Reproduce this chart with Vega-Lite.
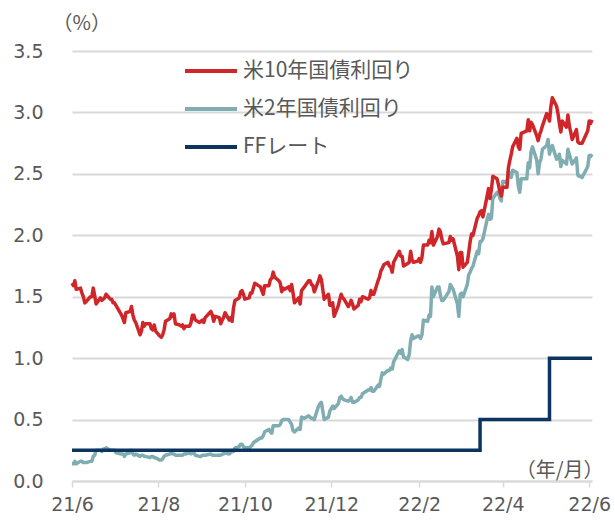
{
  "$schema": "https://vega.github.io/schema/vega-lite/v6.json",
  "width": 520,
  "height": 430,
  "autosize": {"type": "none"},
  "padding": {"left": 72, "top": 51, "right": 23, "bottom": 40},
  "background": "white",
  "config": {"view": {"stroke": null}, "font": "DejaVu Sans"},
  "datasets": {
    "yields": [
      {"date":"2021-06-01","y10":1.61,"y2":0.14},{"date":"2021-06-02","y10":1.59,"y2":0.14},{"date":"2021-06-03","y10":1.63,"y2":0.16},{"date":"2021-06-04","y10":1.56,"y2":0.14},
      {"date":"2021-06-07","y10":1.57,"y2":0.16},{"date":"2021-06-08","y10":1.53,"y2":0.16},{"date":"2021-06-09","y10":1.50,"y2":0.15},{"date":"2021-06-10","y10":1.45,"y2":0.15},{"date":"2021-06-11","y10":1.46,"y2":0.15},
      {"date":"2021-06-14","y10":1.50,"y2":0.16},{"date":"2021-06-15","y10":1.50,"y2":0.16},{"date":"2021-06-16","y10":1.57,"y2":0.20},{"date":"2021-06-17","y10":1.51,"y2":0.21},{"date":"2021-06-18","y10":1.44,"y2":0.25},
      {"date":"2021-06-21","y10":1.49,"y2":0.25},{"date":"2021-06-22","y10":1.47,"y2":0.24},{"date":"2021-06-23","y10":1.48,"y2":0.26},{"date":"2021-06-24","y10":1.49,"y2":0.26},{"date":"2021-06-25","y10":1.52,"y2":0.27},
      {"date":"2021-06-28","y10":1.48,"y2":0.25},{"date":"2021-06-29","y10":1.48,"y2":0.25},{"date":"2021-06-30","y10":1.45,"y2":0.25},{"date":"2021-07-01","y10":1.45,"y2":0.25},{"date":"2021-07-02","y10":1.43,"y2":0.23},
      {"date":"2021-07-06","y10":1.35,"y2":0.22},{"date":"2021-07-07","y10":1.32,"y2":0.22},{"date":"2021-07-08","y10":1.29,"y2":0.20},{"date":"2021-07-09","y10":1.37,"y2":0.22},
      {"date":"2021-07-12","y10":1.38,"y2":0.23},{"date":"2021-07-13","y10":1.42,"y2":0.25},{"date":"2021-07-14","y10":1.35,"y2":0.22},{"date":"2021-07-15","y10":1.31,"y2":0.21},{"date":"2021-07-16","y10":1.29,"y2":0.22},
      {"date":"2021-07-19","y10":1.19,"y2":0.20},{"date":"2021-07-20","y10":1.22,"y2":0.21},{"date":"2021-07-21","y10":1.29,"y2":0.21},{"date":"2021-07-22","y10":1.26,"y2":0.20},{"date":"2021-07-23","y10":1.28,"y2":0.20},
      {"date":"2021-07-26","y10":1.28,"y2":0.19},{"date":"2021-07-27","y10":1.24,"y2":0.20},{"date":"2021-07-28","y10":1.23,"y2":0.20},{"date":"2021-07-29","y10":1.27,"y2":0.19},{"date":"2021-07-30","y10":1.22,"y2":0.19},
      {"date":"2021-08-02","y10":1.18,"y2":0.17},{"date":"2021-08-03","y10":1.17,"y2":0.17},{"date":"2021-08-04","y10":1.19,"y2":0.18},{"date":"2021-08-05","y10":1.23,"y2":0.20},{"date":"2021-08-06","y10":1.30,"y2":0.21},
      {"date":"2021-08-09","y10":1.32,"y2":0.22},{"date":"2021-08-10","y10":1.36,"y2":0.23},{"date":"2021-08-11","y10":1.34,"y2":0.22},{"date":"2021-08-12","y10":1.36,"y2":0.22},{"date":"2021-08-13","y10":1.28,"y2":0.21},
      {"date":"2021-08-16","y10":1.27,"y2":0.21},{"date":"2021-08-17","y10":1.26,"y2":0.21},{"date":"2021-08-18","y10":1.27,"y2":0.21},{"date":"2021-08-19","y10":1.24,"y2":0.22},{"date":"2021-08-20","y10":1.26,"y2":0.22},
      {"date":"2021-08-23","y10":1.26,"y2":0.23},{"date":"2021-08-24","y10":1.29,"y2":0.22},{"date":"2021-08-25","y10":1.35,"y2":0.23},{"date":"2021-08-26","y10":1.35,"y2":0.23},{"date":"2021-08-27","y10":1.31,"y2":0.21},
      {"date":"2021-08-30","y10":1.29,"y2":0.20},{"date":"2021-08-31","y10":1.30,"y2":0.20},{"date":"2021-09-01","y10":1.31,"y2":0.21},{"date":"2021-09-02","y10":1.29,"y2":0.21},{"date":"2021-09-03","y10":1.33,"y2":0.21},
      {"date":"2021-09-07","y10":1.38,"y2":0.22},{"date":"2021-09-08","y10":1.35,"y2":0.21},{"date":"2021-09-09","y10":1.30,"y2":0.21},{"date":"2021-09-10","y10":1.34,"y2":0.21},
      {"date":"2021-09-13","y10":1.33,"y2":0.21},{"date":"2021-09-14","y10":1.28,"y2":0.21},{"date":"2021-09-15","y10":1.31,"y2":0.22},{"date":"2021-09-16","y10":1.33,"y2":0.22},{"date":"2021-09-17","y10":1.37,"y2":0.23},
      {"date":"2021-09-20","y10":1.31,"y2":0.22},{"date":"2021-09-21","y10":1.33,"y2":0.23},{"date":"2021-09-22","y10":1.30,"y2":0.24},{"date":"2021-09-23","y10":1.41,"y2":0.24},{"date":"2021-09-24","y10":1.47,"y2":0.27},
      {"date":"2021-09-27","y10":1.49,"y2":0.28},{"date":"2021-09-28","y10":1.54,"y2":0.30},{"date":"2021-09-29","y10":1.55,"y2":0.30},{"date":"2021-09-30","y10":1.52,"y2":0.28},{"date":"2021-10-01","y10":1.48,"y2":0.27},
      {"date":"2021-10-04","y10":1.49,"y2":0.27},{"date":"2021-10-05","y10":1.53,"y2":0.28},{"date":"2021-10-06","y10":1.53,"y2":0.29},{"date":"2021-10-07","y10":1.57,"y2":0.31},{"date":"2021-10-08","y10":1.61,"y2":0.32},
      {"date":"2021-10-12","y10":1.58,"y2":0.35},{"date":"2021-10-13","y10":1.55,"y2":0.35},{"date":"2021-10-14","y10":1.52,"y2":0.37},{"date":"2021-10-15","y10":1.59,"y2":0.40},
      {"date":"2021-10-18","y10":1.59,"y2":0.42},{"date":"2021-10-19","y10":1.64,"y2":0.40},{"date":"2021-10-20","y10":1.65,"y2":0.39},{"date":"2021-10-21","y10":1.70,"y2":0.45},{"date":"2021-10-22","y10":1.66,"y2":0.45},
      {"date":"2021-10-25","y10":1.63,"y2":0.45},{"date":"2021-10-26","y10":1.61,"y2":0.46},{"date":"2021-10-27","y10":1.54,"y2":0.49},{"date":"2021-10-28","y10":1.57,"y2":0.50},{"date":"2021-10-29","y10":1.56,"y2":0.50},
      {"date":"2021-11-01","y10":1.58,"y2":0.50},{"date":"2021-11-02","y10":1.55,"y2":0.48},{"date":"2021-11-03","y10":1.60,"y2":0.46},{"date":"2021-11-04","y10":1.53,"y2":0.41},{"date":"2021-11-05","y10":1.45,"y2":0.40},
      {"date":"2021-11-08","y10":1.49,"y2":0.43},{"date":"2021-11-09","y10":1.44,"y2":0.42},{"date":"2021-11-10","y10":1.55,"y2":0.52},{"date":"2021-11-12","y10":1.58,"y2":0.51},
      {"date":"2021-11-15","y10":1.63,"y2":0.53},{"date":"2021-11-16","y10":1.63,"y2":0.52},{"date":"2021-11-17","y10":1.60,"y2":0.51},{"date":"2021-11-18","y10":1.59,"y2":0.51},{"date":"2021-11-19","y10":1.54,"y2":0.50},
      {"date":"2021-11-22","y10":1.63,"y2":0.61},{"date":"2021-11-23","y10":1.67,"y2":0.63},{"date":"2021-11-24","y10":1.64,"y2":0.64},{"date":"2021-11-26","y10":1.48,"y2":0.50},
      {"date":"2021-11-29","y10":1.52,"y2":0.52},{"date":"2021-11-30","y10":1.43,"y2":0.57},{"date":"2021-12-01","y10":1.43,"y2":0.59},{"date":"2021-12-02","y10":1.45,"y2":0.61},{"date":"2021-12-03","y10":1.34,"y2":0.59},
      {"date":"2021-12-06","y10":1.43,"y2":0.63},{"date":"2021-12-07","y10":1.48,"y2":0.68},{"date":"2021-12-08","y10":1.52,"y2":0.69},{"date":"2021-12-09","y10":1.49,"y2":0.67},{"date":"2021-12-10","y10":1.48,"y2":0.66},
      {"date":"2021-12-13","y10":1.42,"y2":0.65},{"date":"2021-12-14","y10":1.44,"y2":0.66},{"date":"2021-12-15","y10":1.47,"y2":0.68},{"date":"2021-12-16","y10":1.44,"y2":0.64},{"date":"2021-12-17","y10":1.40,"y2":0.64},
      {"date":"2021-12-20","y10":1.43,"y2":0.66},{"date":"2021-12-21","y10":1.48,"y2":0.68},{"date":"2021-12-22","y10":1.46,"y2":0.68},{"date":"2021-12-23","y10":1.50,"y2":0.71},
      {"date":"2021-12-27","y10":1.48,"y2":0.74},{"date":"2021-12-28","y10":1.49,"y2":0.74},{"date":"2021-12-29","y10":1.55,"y2":0.76},{"date":"2021-12-30","y10":1.52,"y2":0.73},{"date":"2021-12-31","y10":1.52,"y2":0.73},
      {"date":"2022-01-03","y10":1.63,"y2":0.78},{"date":"2022-01-04","y10":1.66,"y2":0.77},{"date":"2022-01-05","y10":1.71,"y2":0.83},{"date":"2022-01-06","y10":1.73,"y2":0.88},{"date":"2022-01-07","y10":1.76,"y2":0.87},
      {"date":"2022-01-10","y10":1.78,"y2":0.90},{"date":"2022-01-11","y10":1.75,"y2":0.90},{"date":"2022-01-12","y10":1.74,"y2":0.92},{"date":"2022-01-13","y10":1.70,"y2":0.91},{"date":"2022-01-14","y10":1.78,"y2":0.97},
      {"date":"2022-01-18","y10":1.87,"y2":1.06},{"date":"2022-01-19","y10":1.83,"y2":1.04},{"date":"2022-01-20","y10":1.83,"y2":1.07},{"date":"2022-01-21","y10":1.75,"y2":1.01},
      {"date":"2022-01-24","y10":1.77,"y2":0.99},{"date":"2022-01-25","y10":1.78,"y2":1.03},{"date":"2022-01-26","y10":1.87,"y2":1.14},{"date":"2022-01-27","y10":1.80,"y2":1.19},{"date":"2022-01-28","y10":1.78,"y2":1.16},
      {"date":"2022-01-31","y10":1.79,"y2":1.18},{"date":"2022-02-01","y10":1.81,"y2":1.18},{"date":"2022-02-02","y10":1.78,"y2":1.16},{"date":"2022-02-03","y10":1.82,"y2":1.19},{"date":"2022-02-04","y10":1.92,"y2":1.31},
      {"date":"2022-02-07","y10":1.92,"y2":1.30},{"date":"2022-02-08","y10":1.96,"y2":1.35},{"date":"2022-02-09","y10":1.94,"y2":1.34},{"date":"2022-02-10","y10":2.03,"y2":1.58},{"date":"2022-02-11","y10":1.92,"y2":1.50},
      {"date":"2022-02-14","y10":1.99,"y2":1.58},{"date":"2022-02-15","y10":2.05,"y2":1.58},{"date":"2022-02-16","y10":2.03,"y2":1.51},{"date":"2022-02-17","y10":1.97,"y2":1.47},{"date":"2022-02-18","y10":1.93,"y2":1.47},
      {"date":"2022-02-22","y10":1.94,"y2":1.54},{"date":"2022-02-23","y10":1.99,"y2":1.60},{"date":"2022-02-24","y10":1.96,"y2":1.58},{"date":"2022-02-25","y10":1.97,"y2":1.56},
      {"date":"2022-02-28","y10":1.83,"y2":1.44},{"date":"2022-03-01","y10":1.72,"y2":1.34},{"date":"2022-03-02","y10":1.86,"y2":1.52},{"date":"2022-03-03","y10":1.86,"y2":1.53},{"date":"2022-03-04","y10":1.74,"y2":1.50},
      {"date":"2022-03-07","y10":1.78,"y2":1.60},{"date":"2022-03-08","y10":1.86,"y2":1.68},{"date":"2022-03-09","y10":1.95,"y2":1.70},{"date":"2022-03-10","y10":2.01,"y2":1.73},{"date":"2022-03-11","y10":2.00,"y2":1.75},
      {"date":"2022-03-14","y10":2.14,"y2":1.87},{"date":"2022-03-15","y10":2.16,"y2":1.85},{"date":"2022-03-16","y10":2.19,"y2":1.95},{"date":"2022-03-17","y10":2.20,"y2":1.95},{"date":"2022-03-18","y10":2.15,"y2":1.97},
      {"date":"2022-03-21","y10":2.32,"y2":2.13},{"date":"2022-03-22","y10":2.38,"y2":2.17},{"date":"2022-03-23","y10":2.30,"y2":2.13},{"date":"2022-03-24","y10":2.37,"y2":2.14},{"date":"2022-03-25","y10":2.48,"y2":2.30},
      {"date":"2022-03-28","y10":2.46,"y2":2.35},{"date":"2022-03-29","y10":2.41,"y2":2.35},{"date":"2022-03-30","y10":2.35,"y2":2.30},{"date":"2022-03-31","y10":2.32,"y2":2.28},{"date":"2022-04-01","y10":2.39,"y2":2.44},
      {"date":"2022-04-04","y10":2.39,"y2":2.43},{"date":"2022-04-05","y10":2.55,"y2":2.52},{"date":"2022-04-06","y10":2.61,"y2":2.50},{"date":"2022-04-07","y10":2.66,"y2":2.47},{"date":"2022-04-08","y10":2.72,"y2":2.53},
      {"date":"2022-04-11","y10":2.79,"y2":2.51},{"date":"2022-04-12","y10":2.72,"y2":2.40},{"date":"2022-04-13","y10":2.70,"y2":2.35},{"date":"2022-04-14","y10":2.83,"y2":2.46},
      {"date":"2022-04-18","y10":2.85,"y2":2.46},{"date":"2022-04-19","y10":2.94,"y2":2.59},{"date":"2022-04-20","y10":2.85,"y2":2.55},{"date":"2022-04-21","y10":2.92,"y2":2.68},{"date":"2022-04-22","y10":2.90,"y2":2.72},
      {"date":"2022-04-25","y10":2.81,"y2":2.61},{"date":"2022-04-26","y10":2.77,"y2":2.50},{"date":"2022-04-27","y10":2.82,"y2":2.59},{"date":"2022-04-28","y10":2.85,"y2":2.62},{"date":"2022-04-29","y10":2.89,"y2":2.70},
      {"date":"2022-05-02","y10":2.99,"y2":2.73},{"date":"2022-05-03","y10":2.97,"y2":2.78},{"date":"2022-05-04","y10":2.93,"y2":2.66},{"date":"2022-05-05","y10":3.05,"y2":2.71},{"date":"2022-05-06","y10":3.12,"y2":2.73},
      {"date":"2022-05-09","y10":3.05,"y2":2.62},{"date":"2022-05-10","y10":2.99,"y2":2.63},{"date":"2022-05-11","y10":2.91,"y2":2.66},{"date":"2022-05-12","y10":2.84,"y2":2.56},{"date":"2022-05-13","y10":2.93,"y2":2.61},
      {"date":"2022-05-16","y10":2.88,"y2":2.58},{"date":"2022-05-17","y10":2.98,"y2":2.70},{"date":"2022-05-18","y10":2.89,"y2":2.66},{"date":"2022-05-19","y10":2.84,"y2":2.62},{"date":"2022-05-20","y10":2.78,"y2":2.58},
      {"date":"2022-05-23","y10":2.86,"y2":2.63},{"date":"2022-05-24","y10":2.76,"y2":2.49},{"date":"2022-05-25","y10":2.75,"y2":2.48},{"date":"2022-05-26","y10":2.75,"y2":2.48},{"date":"2022-05-27","y10":2.75,"y2":2.47},
      {"date":"2022-05-31","y10":2.85,"y2":2.56},{"date":"2022-06-01","y10":2.93,"y2":2.65},{"date":"2022-06-02","y10":2.91,"y2":2.64},{"date":"2022-06-03","y10":2.94,"y2":2.66}
    ],
    "ff": [
      {"date":"2021-06-01","ff":0.25},
      {"date":"2022-03-16","ff":0.5},
      {"date":"2022-05-04","ff":1.0},
      {"date":"2022-06-03","ff":1.0}
    ]
  },
  "encoding": {
    "x": {
      "field": "date", "type": "temporal",
      "scale": {"type": "utc", "domain": [{"year":2021,"month":6,"date":1,"utc":true},{"year":2022,"month":6,"date":3,"utc":true}]},
      "axis": {
        "values": [
          {"year":2021,"month":6,"date":1,"utc":true},{"year":2021,"month":8,"date":1,"utc":true},{"year":2021,"month":10,"date":1,"utc":true},
          {"year":2021,"month":12,"date":1,"utc":true},{"year":2022,"month":2,"date":1,"utc":true},{"year":2022,"month":4,"date":1,"utc":true},{"year":2022,"month":6,"date":1,"utc":true}
        ],
        "labelExpr": "utcFormat(datum.value, '%y/%-m')",
        "grid": false,
        "domainColor": "#d9d9d9", "domainWidth": 2,
        "tickColor": "#d9d9d9", "tickWidth": 1.5, "tickSize": 6,
        "labelFont": "DejaVu Sans", "labelFontSize": 19, "labelColor": "#595959", "labelPadding": 8,
        "labelOverlap": false, "labelFlush": false,
        "title": "（年/月）", "titleFont": "Noto Sans CJK JP", "titleFontSize": 20, "titleFontWeight": "normal", "titleColor": "#595959",
        "titleAnchor": null, "titleAlign": "right", "titleBaseline": "middle", "titleX": 531, "titleY": -11
      }
    }
  },
  "layer": [
    {
      "data": {"name": "yields"},
      "mark": {"type": "line", "strokeWidth": 3.5, "strokeJoin": "round"},
      "encoding": {
        "y": {
          "field": "y2", "type": "quantitative",
          "scale": {"domain": [0, 3.5], "nice": false, "zero": true},
          "axis": {
            "values": [0, 0.5, 1, 1.5, 2, 2.5, 3, 3.5], "format": ".1f",
            "domain": false, "ticks": false,
            "gridColor": "#d9d9d9", "gridWidth": 2,
            "labelFont": "DejaVu Sans", "labelFontSize": 19, "labelColor": "#595959", "labelPadding": 29,
            "title": "（%）", "titleFont": "Noto Sans CJK JP", "titleFontSize": 20, "titleFontWeight": "normal", "titleColor": "#595959",
            "titleAngle": 0, "titleAnchor": null, "titleAlign": "left", "titleBaseline": "middle", "titleX": -20, "titleY": -28
          }
        },
        "color": {
          "datum": "y2", "type": "nominal",
          "scale": {"domain": ["y10", "y2", "ff"], "range": ["#d0262a", "#80adb1", "#0b3560"]},
          "legend": {
            "orient": "none", "legendX": 111, "legendY": -8, "title": null,
            "symbolType": "stroke", "symbolSize": 2704, "symbolStrokeWidth": 4,
            "labelFont": "Noto Sans CJK JP", "labelFontSize": 21, "labelColor": "#595959", "labelOffset": 4,
            "rowPadding": 0, "labelLimit": 300,
            "labelExpr": "datum.label == 'y10' ? '米10年国債利回り' : datum.label == 'y2' ? '米2年国債利回り' : 'FFレート'"
          }
        }
      }
    },
    {
      "data": {"name": "yields"},
      "mark": {"type": "line", "strokeWidth": 3.5, "strokeJoin": "round"},
      "encoding": {
        "y": {"field": "y10", "type": "quantitative"},
        "color": {"datum": "y10", "type": "nominal"}
      }
    },
    {
      "data": {"name": "ff"},
      "mark": {"type": "line", "strokeWidth": 3.5, "interpolate": "step-after"},
      "encoding": {
        "y": {"field": "ff", "type": "quantitative"},
        "color": {"datum": "ff", "type": "nominal"}
      }
    }
  ]
}
